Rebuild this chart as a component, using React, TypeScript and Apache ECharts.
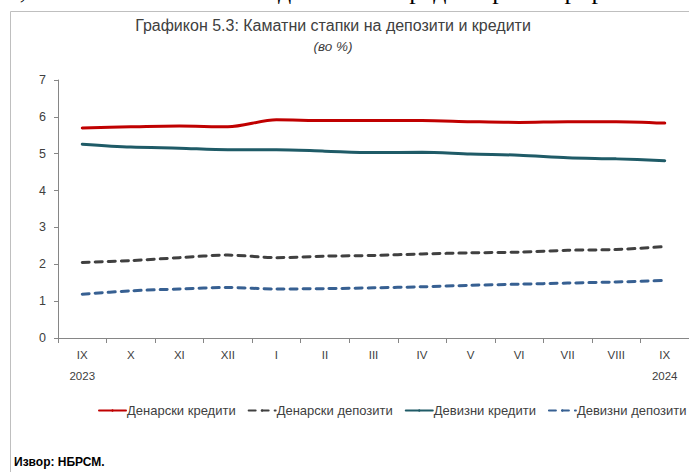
import React, { useEffect, useRef } from "react";
import * as echarts from "echarts";

const categories = ["IX", "X", "XI", "XII", "I", "II", "III", "IV", "V", "VI", "VII", "VIII", "IX"];
const yearLabels = ["2023", "", "", "", "", "", "", "", "", "", "", "", "2024"];
const denarLoans = [5.7, 5.73, 5.75, 5.73, 5.92, 5.9, 5.9, 5.9, 5.87, 5.85, 5.87, 5.87, 5.83];
const denarDeposits = [2.05, 2.1, 2.18, 2.25, 2.18, 2.22, 2.24, 2.28, 2.31, 2.33, 2.38, 2.4, 2.48];
const fxLoans = [5.26, 5.18, 5.15, 5.11, 5.11, 5.07, 5.03, 5.04, 4.99, 4.96, 4.89, 4.86, 4.81];
const fxDeposits = [1.19, 1.28, 1.33, 1.37, 1.33, 1.34, 1.36, 1.39, 1.43, 1.46, 1.49, 1.52, 1.56];
const seriesNames = ["Денарски кредити", "Денарски депозити", "Девизни кредити", "Девизни депозити"];

const titleText = "Графикон 5.3: Каматни стапки на депозити и кредити";
const subtitleText = "(во %)";
const sourceText = "Извор: НБРСМ.";
const clippedText = "%, а каматната стапка на девизните кредити регистрираше";

export default function App() {
  const ref = useRef<HTMLDivElement>(null);
  useEffect(() => {
    if (!ref.current) return;
    const chart = echarts.init(ref.current, undefined, { renderer: "svg" });
    const font = "'Liberation Sans', Arial, sans-serif";
    const mk = (name: string, data: number[], color: string, type: any) => ({
      name,
      type: "line",
      data,
      smooth: 0.3,
      symbol: "none",
      lineStyle: { color, width: 3, type, cap: "round" },
      itemStyle: { color },
    });
    chart.setOption({
      animation: false,
      backgroundColor: "#fff",
      textStyle: { fontFamily: font },
      graphic: [
        {
          type: "line",
          shape: { x1: 10.5, y1: 11.5, x2: 10.5, y2: 472 },
          style: { stroke: "#bfbfbf", lineWidth: 1 },
        },
        {
          type: "line",
          shape: { x1: 10.5, y1: 11.5, x2: 689, y2: 11.5 },
          style: { stroke: "#bfbfbf", lineWidth: 1 },
        },
        {
          type: "text",
          x: -2,
          y: 3,
          style: {
            text: clippedText,
            font: "26px 'Liberation Serif', 'Times New Roman', serif",
            fill: "#000",
            verticalAlign: "bottom",
          },
        },
        {
          type: "text",
          x: 333,
          y: 25,
          style: {
            text: titleText,
            font: "16px " + font,
            fill: "#404040",
            align: "center",
            verticalAlign: "middle",
          },
        },
        {
          type: "text",
          x: 333,
          y: 46,
          style: {
            text: subtitleText,
            font: "italic 13.5px " + font,
            fill: "#404040",
            align: "center",
            verticalAlign: "middle",
          },
        },
        {
          type: "text",
          x: 14,
          y: 462,
          style: {
            text: sourceText,
            font: "bold 12px " + font,
            fill: "#000",
            verticalAlign: "middle",
          },
        },
      ],
      legend: {
        data: seriesNames,
        left: 93,
        top: 399,
        width: 1000,
        itemWidth: 27,
        itemHeight: 3,
        itemGap: 12,
        textStyle: { fontSize: 13, color: "#404040", fontFamily: font, padding: [0, 0, 0, -4] },
      },
      grid: { left: 58, top: 80, width: 636, height: 258, containLabel: false },
      xAxis: {
        type: "category",
        data: categories,
        boundaryGap: true,
        axisLine: { lineStyle: { color: "#868686", width: 1 } },
        axisTick: { show: true, length: 5, lineStyle: { color: "#868686" } },
        axisLabel: {
          color: "#404040",
          fontSize: 11.5,
          margin: 6,
          lineHeight: 21,
          interval: 0,
          formatter: (v: string, i: number) => (yearLabels[i] ? v + "\n" + yearLabels[i] : v + "\n "),
        },
      },
      yAxis: {
        type: "value",
        min: 0,
        max: 7,
        interval: 1,
        splitLine: { show: false },
        axisLine: { show: true, lineStyle: { color: "#868686", width: 1 } },
        axisTick: { show: true, length: 4, lineStyle: { color: "#868686" } },
        axisLabel: { color: "#404040", fontSize: 12.5, margin: 12 },
      },
      series: [
        mk(seriesNames[0], denarLoans, "#C00000", "solid"),
        mk(seriesNames[1], denarDeposits, "#404040", [7, 6]),
        mk(seriesNames[2], fxLoans, "#1F5B67", "solid"),
        mk(seriesNames[3], fxDeposits, "#376092", [7, 6]),
      ],
    });
    return () => chart.dispose();
  }, []);
  return (
    <div
      ref={ref}
      style={{ position: "absolute", left: 0, top: 0, width: 689, height: 472 }}
    />
  );
}
